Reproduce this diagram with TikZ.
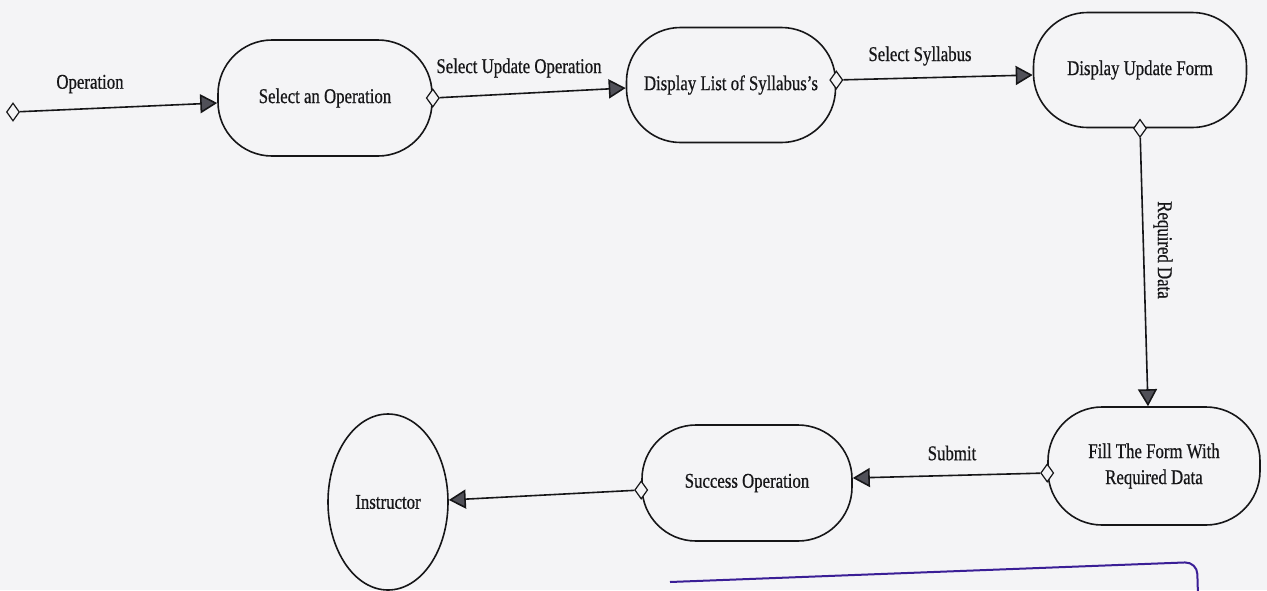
\documentclass[tikz,border=0pt]{standalone}
\usepackage{fontspec}
\setmainfont[FakeStretch=0.8,FakeBold=0.6]{Liberation Serif}
\usetikzlibrary{shapes.geometric,arrows.meta,calc}
\definecolor{paper}{RGB}{244,244,246}
\definecolor{ink}{RGB}{22,22,24}
\definecolor{headfill}{RGB}{80,80,88}
\definecolor{notebox}{RGB}{58,30,150}
\tikzset{
  stepbox/.style={draw=ink, line width=1.6pt, rounded corners=54pt, inner sep=0pt,
    align=center, font=\fontsize{21}{26}\selectfont, text=ink},
  actor/.style={ellipse, draw=ink, line width=1.6pt, inner sep=0pt,
    minimum width=120pt, minimum height=176pt, font=\fontsize{21}{26}\selectfont, text=ink},
  port/.style={diamond, draw=ink, fill=paper, line width=1.2pt, inner sep=0pt,
    minimum width=13pt, minimum height=18pt},
  flow/.style={draw=ink, line width=1.6pt, -{Triangle[length=17pt,width=19pt,fill=headfill]}},
  lbl/.style={font=\fontsize{21}{24}\selectfont, text=ink, inner sep=0pt}
}
\begin{document}
\begin{tikzpicture}[x=1pt,y=-1pt]
\useasboundingbox (0,0) rectangle (1267,590);
\fill[paper] (0,0) rectangle (1267,590);
\begin{scope}
\clip (0,0) rectangle (1267,590);
% nodes
\node[stepbox, minimum width=214pt, minimum height=116pt] (n1) at (325,98) {Select an Operation};
\node[stepbox, minimum width=209pt, minimum height=115pt] (n2) at (731,85) {Display List of Syllabus's};
\node[stepbox, minimum width=213pt, minimum height=115pt] (n3) at (1140,70) {Display Update Form};
\node[stepbox, minimum width=212pt, minimum height=118pt] (n4) at (1154,466) {Fill The Form With\\Required Data};
\node[stepbox, minimum width=210pt, minimum height=116pt] (n5) at (747,483) {Success Operation};
\node[actor] (inst) at (388,502) {Instructor};
% ports
\node[port] (s) at (13,112) {};
\node[port] (p1) at (n1.east) {};
\node[port] (p2) at ($(n2.east)+(0,-5)$) {};
\node[port] (p3) at (n3.south) {};
\node[port] (p4) at ($(n4.west)+(0,7)$) {};
\node[port] (p5) at ($(n5.west)+(0,7)$) {};
% connectors
\draw[flow] (s) -- ($(n1.west)+(0,5)$);
\draw[flow] (p1) -- ($(n2.west)+(0,3)$);
\draw[flow] (p2) -- ($(n3.west)+(0,5)$);
\draw[flow] (p3) -- ($(n4.north)+(-6,0)$);
\draw[flow] (p4) -- ($(n5.east)+(0,-5)$);
\draw[flow] (p5) -- ($(inst.east)+(0,-2)$);
% labels
\node[lbl] (l0) at (90,84) {Operation};
\node[lbl] (l1) at (519,68) {Select Update Operation};
\node[lbl] (l2) at (920,56) {Select Syllabus};
\node[lbl, rotate=-90] (l3) at (1163,250) {Required Data};
\node[lbl] (l4) at (952,453) {Submit};
% partial note box at the bottom edge
\draw[notebox, line width=2pt, rounded corners=12pt] (670,582) -- (1197,562) -- (1199,630);
\end{scope}
\end{tikzpicture}
\end{document}
